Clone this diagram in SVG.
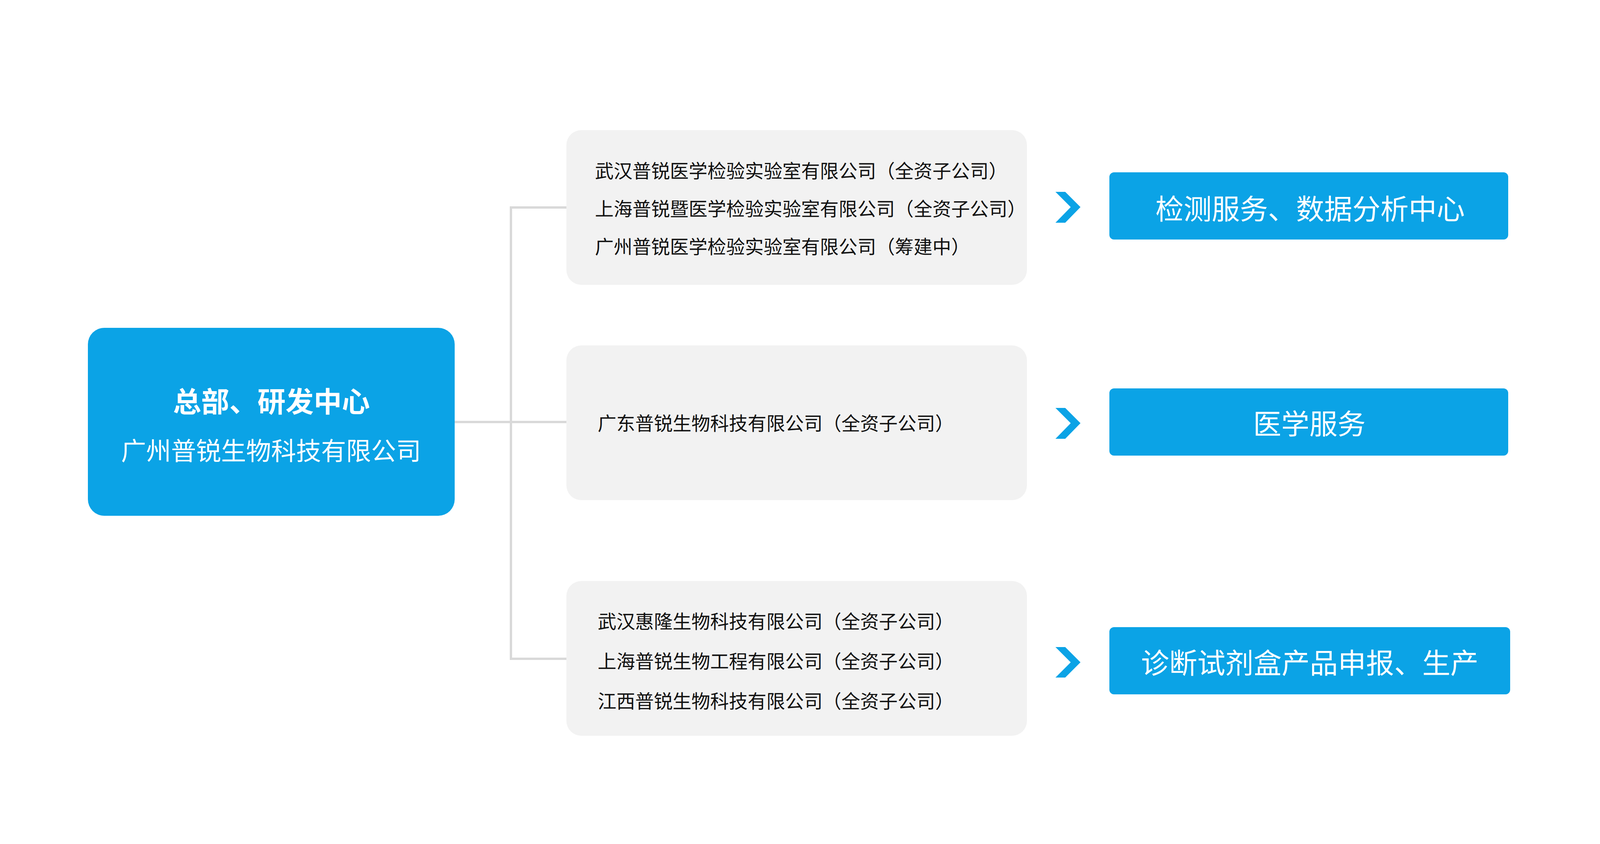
<svg xmlns="http://www.w3.org/2000/svg" width="4535" height="2160" viewBox="0 0 4535 2160">
<style>
.blue{fill:#0ba3e6}
.gray{fill:#f2f2f2}
.wt{fill:#ffffff;font-family:"Noto Sans CJK SC","Noto Sans",sans-serif;text-anchor:middle;dominant-baseline:central}
.bt{fill:#111111;font-family:"Noto Sans CJK SC","Noto Sans",sans-serif;font-size:48px;dominant-baseline:central}
.conn{stroke:#d9d9d9;stroke-width:6;fill:none}
.chev{fill:#0ba3e6}
</style>
<rect width="4535" height="2160" fill="#ffffff"/>
<g id="connectors">
<path class="conn" d="M1164 1080 H1450"/>
<path class="conn" d="M1308 531 V1686"/>
<path class="conn" d="M1305 531 H1450"/>
<path class="conn" d="M1305 1686 H1450"/>
</g>
<g id="hq">
<rect class="blue" x="225" y="839" width="939" height="481" rx="42" ry="42"/>
<text class="wt" x="695" y="1022" font-size="72" font-weight="700">总部、研发中心</text>
<text class="wt" x="694" y="1149" font-size="64">广州普锐生物科技有限公司</text>
</g>
<g id="group1">
<rect class="gray" x="1450" y="333" width="1179" height="396" rx="38" ry="38"/>
<text class="bt" x="1523" y="434">武汉普锐医学检验实验室有限公司（全资子公司）</text>
<text class="bt" x="1523" y="531">上海普锐暨医学检验实验室有限公司（全资子公司）</text>
<text class="bt" x="1523" y="628">广州普锐医学检验实验室有限公司（筹建中）</text>
</g>
<g id="group2">
<rect class="gray" x="1450" y="884" width="1179" height="396" rx="38" ry="38"/>
<text class="bt" x="1530" y="1080">广东普锐生物科技有限公司（全资子公司）</text>
</g>
<g id="group3">
<rect class="gray" x="1450" y="1487" width="1179" height="396" rx="38" ry="38"/>
<text class="bt" x="1530" y="1587">武汉惠隆生物科技有限公司（全资子公司）</text>
<text class="bt" x="1530" y="1689">上海普锐生物工程有限公司（全资子公司）</text>
<text class="bt" x="1530" y="1791">江西普锐生物科技有限公司（全资子公司）</text>
</g>
<g id="arrows">
<polygon class="chev" points="2702,491 2727,491 2766,530 2727,570 2702,570 2741,530"/>
<polygon class="chev" points="2702,1044 2727,1044 2766,1083 2727,1123 2702,1123 2741,1083"/>
<polygon class="chev" points="2702,1656 2727,1656 2766,1695 2727,1734 2702,1734 2741,1695"/>
</g>
<g id="service1">
<rect class="blue" x="2840" y="441" width="1021" height="172" rx="12" ry="12"/>
<text class="wt" x="3354" y="529" font-size="72">检测服务、数据分析中心</text>
</g>
<g id="service2">
<rect class="blue" x="2840" y="994" width="1021" height="172" rx="12" ry="12"/>
<text class="wt" x="3352" y="1079" font-size="72">医学服务</text>
</g>
<g id="service3">
<rect class="blue" x="2840" y="1605" width="1026" height="172" rx="12" ry="12"/>
<text class="wt" x="3353" y="1691" font-size="72">诊断试剂盒产品申报、生产</text>
</g>
</svg>
